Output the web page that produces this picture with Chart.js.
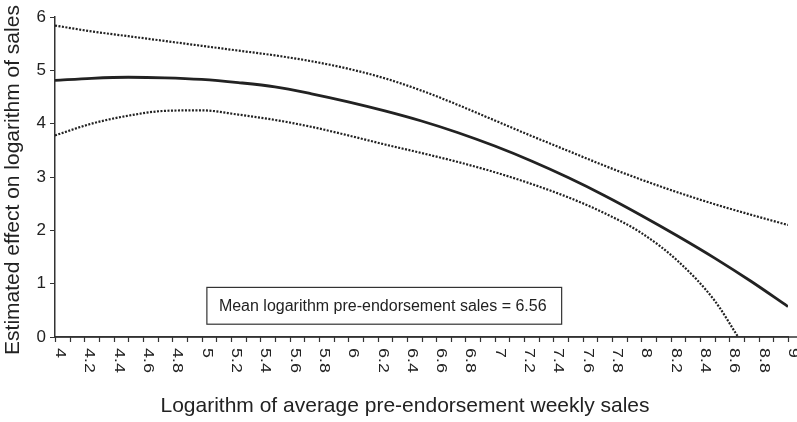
<!DOCTYPE html>
<html>
<head>
<meta charset="utf-8">
<script src="https://cdn.jsdelivr.net/npm/chart.js@4.4.1/dist/chart.umd.min.js"></script>
<style>
  html, body { margin: 0; padding: 0; background: #fff; }
  #chart { display: block; }
</style>
</head>
<body>
<canvas id="chart" width="797" height="422"></canvas>
<script>
// values
const xValues = [4, 4.25, 4.5, 4.75, 5, 5.25, 5.5, 5.75, 6, 6.25, 6.5, 6.75, 7, 7.25, 7.5, 7.75, 8, 8.25, 8.5, 8.75, 9];
const estimate = [4.81, 4.85, 4.87, 4.86, 4.83, 4.77, 4.69, 4.56, 4.41, 4.24, 4.05, 3.83, 3.58, 3.30, 2.99, 2.65, 2.28, 1.89, 1.48, 1.04, 0.57];
const upperBand = [5.84, 5.73, 5.64, 5.55, 5.46, 5.37, 5.28, 5.17, 5.03, 4.85, 4.62, 4.35, 4.06, 3.77, 3.49, 3.21, 2.95, 2.71, 2.49, 2.29, 2.10];
const lowerX = [4, 4.25, 4.5, 4.75, 5, 5.25, 5.5, 5.75, 6, 6.25, 6.5, 6.75, 7, 7.25, 7.5, 7.75, 8, 8.25, 8.5, 8.66];
const lowerBand = [3.78, 4.00, 4.15, 4.24, 4.25, 4.17, 4.07, 3.94, 3.78, 3.61, 3.45, 3.28, 3.09, 2.87, 2.62, 2.32, 1.95, 1.42, 0.68, 0];
const xTickLabels = ["4", "4.2", "4.4", "4.6", "4.8", "5", "5.2", "5.4", "5.6", "5.8", "6", "6.2", "6.4", "6.6", "6.8",
  "7", "7.2", "7.4", "7.6", "7.8", "8", "8.2", "8.4", "8.6", "8.8", "9"];
const xTitle = "Logarithm of average pre-endorsement weekly sales";
const yTitle = "Estimated effect on logarithm of sales";
const noteText = "Mean logarithm pre-endorsement sales = 6.56";

const FONT = "'Liberation Sans', Arial, sans-serif";
const INK = "#222";

function pts(xs, ys) {
  return xs.map((x, i) => ({ x: x, y: ys[i] }));
}

const extras = {
  id: "extras",
  afterDraw(chart) {
    const ctx = chart.ctx;
    const xs = chart.scales.x;
    const ys = chart.scales.y;
    const base = ys.bottom;
    ctx.save();

    // x axis line runs on to the right edge, with a small mark every 0.1
    ctx.strokeStyle = "#333";
    ctx.lineWidth = 1.5;
    ctx.beginPath();
    ctx.moveTo(xs.left, base);
    ctx.lineTo(chart.width, base);
    ctx.stroke();
    ctx.lineWidth = 1.2;
    ctx.beginPath();
    for (let k = Math.round(xs.min * 10); k <= Math.round(xs.max * 10); k++) {
      const px = Math.round(xs.getPixelForValue(k / 10)) + 0.5;
      ctx.moveTo(px, base);
      ctx.lineTo(px, base + 5);
    }
    ctx.stroke();

    // x tick labels, turned to read top to bottom
    ctx.fillStyle = INK;
    ctx.font = "17px " + FONT;
    ctx.textAlign = "left";
    ctx.textBaseline = "alphabetic";
    xTickLabels.forEach((lab) => {
      const px = xs.getPixelForValue(parseFloat(lab));
      ctx.save();
      ctx.translate(px + 1, base + 11);
      ctx.rotate(Math.PI / 2);
      ctx.scale(1.05, 0.85);
      ctx.fillText(lab, 0, 0);
      ctx.restore();
    });

    // axis titles
    ctx.font = "21px " + FONT;
    ctx.textAlign = "center";
    ctx.fillText(xTitle, 405, 412);
    ctx.save();
    ctx.translate(19, 180);
    ctx.rotate(-Math.PI / 2);
    ctx.fillText(yTitle, 0, 0);
    ctx.restore();

    // note box
    const left = xs.getPixelForValue(5.036);
    const right = xs.getPixelForValue(7.456);
    const top = ys.getPixelForValue(0.93);
    const bottom = ys.getPixelForValue(0.24);
    ctx.strokeStyle = "#333";
    ctx.lineWidth = 1.2;
    ctx.strokeRect(left, top, right - left, bottom - top);
    ctx.font = "16px " + FONT;
    ctx.textAlign = "left";
    ctx.textBaseline = "middle";
    ctx.fillText(noteText, left + 12, (top + bottom) / 2 + 1);
    ctx.restore();
  },
};

const lineBase = {
  showLine: true,
  borderColor: INK,
  pointRadius: 0,
  cubicInterpolationMode: "monotone",
};

new Chart(document.getElementById("chart"), {
  type: "scatter",
  data: {
    datasets: [
      Object.assign({}, lineBase, { data: pts(xValues, upperBand), borderWidth: 2.2, borderDash: [2, 1.5] }),
      Object.assign({}, lineBase, { data: pts(xValues, estimate), borderWidth: 2.8 }),
      Object.assign({}, lineBase, { data: pts(lowerX, lowerBand), borderWidth: 2.2, borderDash: [2, 1.5] }),
    ],
  },
  options: {
    responsive: false,
    animation: false,
    devicePixelRatio: 1,
    layout: { padding: { top: 17, right: 9, left: 0, bottom: 0 } },
    plugins: {
      legend: { display: false },
      tooltip: { enabled: false },
    },
    scales: {
      x: {
        type: "linear",
        min: 4,
        max: 9,
        afterFit: (scale) => { scale.height = 85; },
        ticks: { display: false, stepSize: 0.1, maxTicksLimit: 100 },
        grid: { display: false },
        border: { display: true, color: "#333", width: 1.5 },
      },
      y: {
        min: 0,
        max: 6,
        afterFit: (scale) => { scale.width = 55; },
        ticks: { stepSize: 1, color: INK, font: { family: FONT, size: 17 }, padding: 4 },
        grid: { drawOnChartArea: false, drawTicks: true, tickLength: 5, color: "#333" },
        border: { color: "#333", width: 1.5 },
      },
    },
  },
  plugins: [extras],
});
</script>
</body>
</html>
